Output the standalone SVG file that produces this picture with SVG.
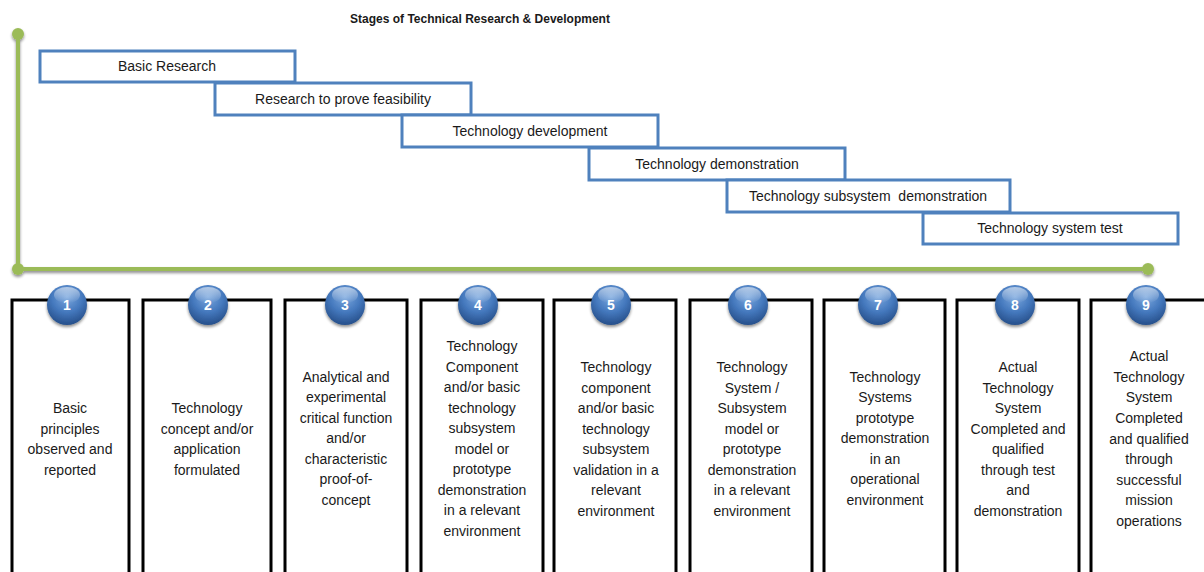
<svg xmlns="http://www.w3.org/2000/svg" width="1204" height="572" viewBox="0 0 1204 572">
<defs>
<radialGradient id="ball" cx="0.5" cy="0.3" r="0.7">
<stop offset="0" stop-color="#7aa7de"/>
<stop offset="0.55" stop-color="#4478bd"/>
<stop offset="1" stop-color="#264f8a"/>
</radialGradient>
<linearGradient id="gloss" x1="0" y1="0" x2="0" y2="1">
<stop offset="0" stop-color="#ffffff" stop-opacity="0.55"/>
<stop offset="1" stop-color="#ffffff" stop-opacity="0"/>
</linearGradient>
<filter id="sh" x="-30%" y="-30%" width="160%" height="170%">
<feGaussianBlur in="SourceAlpha" stdDeviation="1.5"/>
<feOffset dy="2" result="b"/>
<feComponentTransfer><feFuncA type="linear" slope="0.45"/></feComponentTransfer>
<feMerge><feMergeNode/><feMergeNode in="SourceGraphic"/></feMerge>
</filter>
</defs>
<style>
text{font-family:"Liberation Sans",Arial,sans-serif;fill:#1a1a1a}
.title{font-size:12px;font-weight:bold;text-anchor:middle}
.bar rect{fill:#fff;stroke:#4f81bd;stroke-width:3}
.bar text{font-size:14px;text-anchor:middle}
.box rect{fill:#fff;stroke:#000;stroke-width:3}
.box text{font-size:14px;text-anchor:middle}
.num{fill:#fff;font-size:13px;font-weight:bold;text-anchor:middle}
.axis{stroke:#9bbb59;stroke-width:4;fill:none}
</style>
<text class="title" x="480" y="23">Stages of Technical Research &amp; Development</text>
<g id="connectors" filter="url(#sh)">
<path class="axis" d="M18,34 V269 H1148"/>
<circle cx="18" cy="34" r="6" fill="#9bbb59"/>
<circle cx="18" cy="269" r="6" fill="#9bbb59"/>
<circle cx="1148" cy="269" r="6" fill="#9bbb59"/>
</g>
<g id="bar1" class="bar"><rect x="40" y="51" width="255" height="31"/><text x="167" y="71">Basic Research</text></g>
<g id="bar2" class="bar"><rect x="215" y="83" width="256" height="32"/><text x="343" y="104">Research to prove feasibility</text></g>
<g id="bar3" class="bar"><rect x="402" y="115" width="256" height="32"/><text x="530" y="136">Technology development</text></g>
<g id="bar4" class="bar"><rect x="589" y="148" width="256" height="32"/><text x="717" y="169">Technology demonstration</text></g>
<g id="bar5" class="bar"><rect x="727" y="180" width="283" height="32"/><text x="868" y="201" xml:space="preserve">Technology subsystem  demonstration</text></g>
<g id="bar6" class="bar"><rect x="923" y="213" width="255" height="31"/><text x="1050" y="233">Technology system test</text></g>

<g id="trl1" class="box"><rect x="12" y="300" width="117" height="290"/>
<text x="70"><tspan x="70" y="413">Basic</tspan><tspan x="70" y="434">principles</tspan><tspan x="70" y="454">observed and</tspan><tspan x="70" y="475">reported</tspan></text>
<g filter="url(#sh)"><circle cx="67" cy="305" r="20" fill="url(#ball)"/><ellipse cx="67" cy="295" rx="13" ry="8" fill="url(#gloss)"/></g><text class="num" x="67" y="310">1</text></g>

<g id="trl2" class="box"><rect x="143" y="300" width="128" height="290"/>
<text><tspan x="207" y="413">Technology</tspan><tspan x="207" y="434">concept and/or</tspan><tspan x="207" y="454">application</tspan><tspan x="207" y="475">formulated</tspan></text>
<g filter="url(#sh)"><circle cx="208" cy="305" r="20" fill="url(#ball)"/><ellipse cx="208" cy="295" rx="13" ry="8" fill="url(#gloss)"/></g><text class="num" x="208" y="310">2</text></g>

<g id="trl3" class="box"><rect x="285" y="300" width="122" height="290"/>
<text><tspan x="346" y="382">Analytical and</tspan><tspan x="346" y="402">experimental</tspan><tspan x="346" y="423">critical function</tspan><tspan x="346" y="443">and/or</tspan><tspan x="346" y="464">characteristic</tspan><tspan x="346" y="484">proof-of-</tspan><tspan x="346" y="505">concept</tspan></text>
<g filter="url(#sh)"><circle cx="345" cy="305" r="20" fill="url(#ball)"/><ellipse cx="345" cy="295" rx="13" ry="8" fill="url(#gloss)"/></g><text class="num" x="345" y="310">3</text></g>

<g id="trl4" class="box"><rect x="421" y="300" width="122" height="290"/>
<text><tspan x="482" y="351">Technology</tspan><tspan x="482" y="372">Component</tspan><tspan x="482" y="392">and/or basic</tspan><tspan x="482" y="413">technology</tspan><tspan x="482" y="433">subsystem</tspan><tspan x="482" y="454">model or</tspan><tspan x="482" y="474">prototype</tspan><tspan x="482" y="495">demonstration</tspan><tspan x="482" y="515">in a relevant</tspan><tspan x="482" y="536">environment</tspan></text>
<g filter="url(#sh)"><circle cx="478" cy="305" r="20" fill="url(#ball)"/><ellipse cx="478" cy="295" rx="13" ry="8" fill="url(#gloss)"/></g><text class="num" x="478" y="310">4</text></g>

<g id="trl5" class="box"><rect x="554" y="300" width="122" height="290"/>
<text><tspan x="616" y="372">Technology</tspan><tspan x="616" y="393">component</tspan><tspan x="616" y="413">and/or basic</tspan><tspan x="616" y="434">technology</tspan><tspan x="616" y="454">subsystem</tspan><tspan x="616" y="475">validation in a</tspan><tspan x="616" y="495">relevant</tspan><tspan x="616" y="516">environment</tspan></text>
<g filter="url(#sh)"><circle cx="611" cy="305" r="20" fill="url(#ball)"/><ellipse cx="611" cy="295" rx="13" ry="8" fill="url(#gloss)"/></g><text class="num" x="611" y="310">5</text></g>

<g id="trl6" class="box"><rect x="690" y="300" width="122" height="290"/>
<text><tspan x="752" y="372">Technology</tspan><tspan x="752" y="393">System /</tspan><tspan x="752" y="413">Subsystem</tspan><tspan x="752" y="434">model or</tspan><tspan x="752" y="454">prototype</tspan><tspan x="752" y="475">demonstration</tspan><tspan x="752" y="495">in a relevant</tspan><tspan x="752" y="516">environment</tspan></text>
<g filter="url(#sh)"><circle cx="748" cy="305" r="20" fill="url(#ball)"/><ellipse cx="748" cy="295" rx="13" ry="8" fill="url(#gloss)"/></g><text class="num" x="748" y="310">6</text></g>

<g id="trl7" class="box"><rect x="824" y="300" width="121" height="290"/>
<text><tspan x="885" y="382">Technology</tspan><tspan x="885" y="402">Systems</tspan><tspan x="885" y="423">prototype</tspan><tspan x="885" y="443">demonstration</tspan><tspan x="885" y="464">in an</tspan><tspan x="885" y="484">operational</tspan><tspan x="885" y="505">environment</tspan></text>
<g filter="url(#sh)"><circle cx="878" cy="305" r="20" fill="url(#ball)"/><ellipse cx="878" cy="295" rx="13" ry="8" fill="url(#gloss)"/></g><text class="num" x="878" y="310">7</text></g>

<g id="trl8" class="box"><rect x="957" y="300" width="122" height="290"/>
<text><tspan x="1018" y="372">Actual</tspan><tspan x="1018" y="393">Technology</tspan><tspan x="1018" y="413">System</tspan><tspan x="1018" y="434">Completed and</tspan><tspan x="1018" y="454">qualified</tspan><tspan x="1018" y="475">through test</tspan><tspan x="1018" y="495">and</tspan><tspan x="1018" y="516">demonstration</tspan></text>
<g filter="url(#sh)"><circle cx="1015" cy="305" r="20" fill="url(#ball)"/><ellipse cx="1015" cy="295" rx="13" ry="8" fill="url(#gloss)"/></g><text class="num" x="1015" y="310">8</text></g>

<g id="trl9" class="box"><rect x="1091" y="300" width="130" height="290"/>
<text><tspan x="1149" y="361">Actual</tspan><tspan x="1149" y="382">Technology</tspan><tspan x="1149" y="402">System</tspan><tspan x="1149" y="423">Completed</tspan><tspan x="1149" y="444">and qualified</tspan><tspan x="1149" y="464">through</tspan><tspan x="1149" y="485">successful</tspan><tspan x="1149" y="505">mission</tspan><tspan x="1149" y="526">operations</tspan></text>
<g filter="url(#sh)"><circle cx="1146" cy="305" r="20" fill="url(#ball)"/><ellipse cx="1146" cy="295" rx="13" ry="8" fill="url(#gloss)"/></g><text class="num" x="1146" y="310">9</text></g>
</svg>
